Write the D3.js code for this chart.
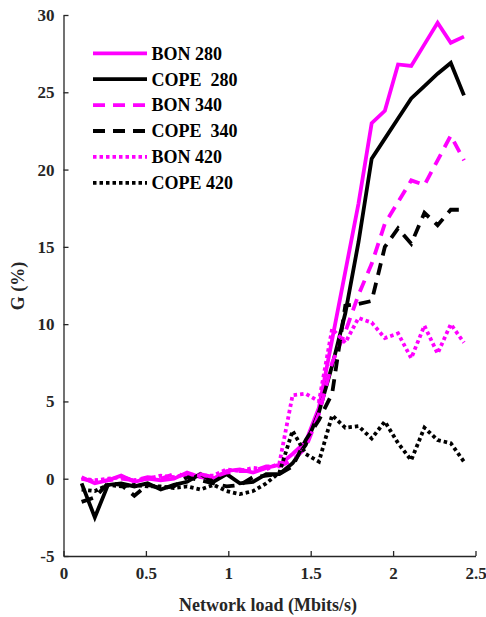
<!DOCTYPE html>
<meta charset="utf-8">
<style>
	body { margin: 0; background: #fff; }
	.chart text { font-family: "Liberation Serif", "Times New Roman", serif; font-weight: bold; }
	.axis path, .axis line { stroke: #262626; stroke-width: 1.3; }
	.axis text { fill: #262626; font-size: 17px; }
</style>
<html>
<head>
    <script type="text/javascript" src="https://cdn.jsdelivr.net/npm/d3@7/dist/d3.min.js" charset="utf-8"></script>
</head>
<body>
    <svg class="chart"></svg>

    <script type="text/javascript">
        //DATA
        var load = [0.11, 0.19, 0.27, 0.35, 0.43, 0.51, 0.59, 0.67, 0.75, 0.83,
                    0.91, 0.99, 1.07, 1.15, 1.23, 1.31, 1.39, 1.47, 1.55, 1.63,
                    1.71, 1.79, 1.87, 1.95, 2.03, 2.11, 2.19, 2.27, 2.35, 2.43];

        var bon280 = [0.1, -0.3, -0.1, 0.2, -0.2, 0.0, -0.1, 0.0, 0.4, 0.1,
                      0.0, 0.5, 0.6, 0.4, 0.7, 0.9, 1.6, 2.4, 4.6, 9.0,
                      13.4, 17.8, 23.0, 23.8, 26.8, 26.7, 28.1, 29.5, 28.2, 28.6];
        var cope280 = [-0.3, -2.5, -0.4, -0.3, -0.5, -0.3, -0.7, -0.4, -0.2, 0.3,
                       -0.2, 0.3, -0.3, -0.2, 0.3, 0.3, 1.0, 2.2, 4.3, 7.3,
                       10.7, 15.3, 20.7, 22.0, 23.3, 24.6, 25.4, 26.2, 26.9, 24.8];
        var bon340 = [0.0, -0.2, -0.1, 0.0, -0.1, 0.1, 0.0, 0.3, 0.2, 0.3,
                      0.1, 0.4, 0.5, 0.5, 0.8, 0.8, 1.2, 2.0, 4.2, 7.5,
                      9.5, 11.9, 13.9, 16.5, 17.9, 19.3, 19.0, 20.6, 22.2, 20.6];
        var cope340 = [-1.5, -1.2, -0.3, -0.4, -1.1, -0.4, -0.6, -0.5, 0.1, -0.1,
                       -0.3, -0.5, -0.4, 0.1, 0.2, 0.3, 0.8, 2.5, 3.8, 5.5,
                       11.2, 11.3, 11.5, 15.0, 16.2, 15.2, 17.2, 16.4, 17.4, 17.4];
        var bon420 = [0.0, -0.1, 0.0, 0.1, -0.1, 0.0, 0.2, 0.1, 0.3, 0.2,
                      0.2, 0.6, 0.5, 0.7, 0.6, 1.0, 5.4, 5.5, 5.0, 9.7,
                      8.8, 10.4, 10.1, 9.1, 9.4, 7.8, 9.9, 8.1, 10.0, 8.8];
        var cope420 = [-0.7, -0.8, -0.4, -0.5, -0.4, -0.5, -0.5, -0.6, -0.5, -0.7,
                       -0.4, -0.8, -1.0, -0.8, -0.3, 0.4, 3.1, 1.6, 1.1, 4.1,
                       3.3, 3.4, 2.6, 3.7, 2.3, 1.2, 3.3, 2.5, 2.3, 1.1];

        var seriesNames = ["BON 280", "COPE  280", "BON 340", "COPE  340", "BON 420", "COPE 420"];
        var seriesValues = [bon280, cope280, bon340, cope340, bon420, cope420];

        var xTicks = [0, 0.5, 1, 1.5, 2, 2.5];
        var yTicks = [-5, 0, 5, 10, 15, 20, 25, 30];

        //look of each series
        var colors = ["#ff00ff", "#000000", "#ff00ff", "#000000", "#ff00ff", "#000000"];
        var dashes = [null, null, "12,8", "12,8", "3.5,3", "3.5,3"];

        var series = seriesNames.map(function(name, i) {
            return {
                name: name,
                color: colors[i],
                dash: dashes[i],
                points: load.map(function(x, j) { return [x, seriesValues[i][j]]; })
            };
        });

        //CHART
        var width = 486,
            height = 617;

        var x = d3.scaleLinear().domain([0, 2.5]).range([63.5, 475.5]);
        var y = d3.scaleLinear().domain([-5, 30]).range([556, 15]);

        var svg = d3.select(".chart")
            .attr("width", width)
            .attr("height", height);

        var line = d3.line()
            .x(function(d) { return x(d[0]); })
            .y(function(d) { return y(d[1]); });

        svg.selectAll(".series")
            .data(series)
            .enter()
            .append("path")
            .attr("class", "series")
            .attr("d", function(d) { return line(d.points); })
            .attr("fill", "none")
            .attr("stroke", function(d) { return d.color; })
            .attr("stroke-width", 3.8)
            .attr("stroke-linejoin", "miter")
            .attr("stroke-dasharray", function(d) { return d.dash; });

        //axes, ticks pointing inward; plain hyphen for negatives like the original
        var fmt = function(d) { return String(d); };

        var xAxis = svg.append("g")
            .attr("class", "axis")
            .attr("transform", "translate(0," + y(-5) + ")")
            .call(d3.axisBottom(x).tickValues(xTicks).tickSizeInner(-5).tickSizeOuter(0).tickFormat(fmt));
        xAxis.selectAll("text").attr("dy", "1.15em");

        var yAxis = svg.append("g")
            .attr("class", "axis")
            .attr("transform", "translate(" + x(0) + ",0)")
            .call(d3.axisLeft(y).tickValues(yTicks).tickSizeInner(-5).tickSizeOuter(0).tickFormat(fmt));
        yAxis.selectAll("text").attr("x", -9);

        svg.append("text")
            .attr("x", 268)
            .attr("y", 611)
            .attr("text-anchor", "middle")
            .attr("fill", "#262626")
            .style("font-size", "18px")
            .text("Network load (Mbits/s)");

        svg.append("text")
            .attr("transform", "translate(24,286) rotate(-90)")
            .attr("text-anchor", "middle")
            .attr("fill", "#262626")
            .style("font-size", "18px")
            .text("G (%)");

        //LEGEND
        var legend = svg.selectAll(".legend")
            .data(series)
            .enter()
            .append("g")
            .attr("class", "legend")
            .attr("transform", function(d, i) { return "translate(93," + (53.3 + i * 25.9) + ")"; });

        legend.append("line")
            .attr("x1", 0)
            .attr("x2", 54)
            .attr("stroke", function(d) { return d.color; })
            .attr("stroke-width", 3.8)
            .attr("stroke-dasharray", function(d) { return d.dash; });

        legend.append("text")
            .attr("x", 58.5)
            .attr("dy", "0.35em")
            .attr("fill", "#000")
            .style("font-size", "18px")
            .style("white-space", "pre")
            .text(function(d) { return d.name; });
    </script>
</body>
</html>
